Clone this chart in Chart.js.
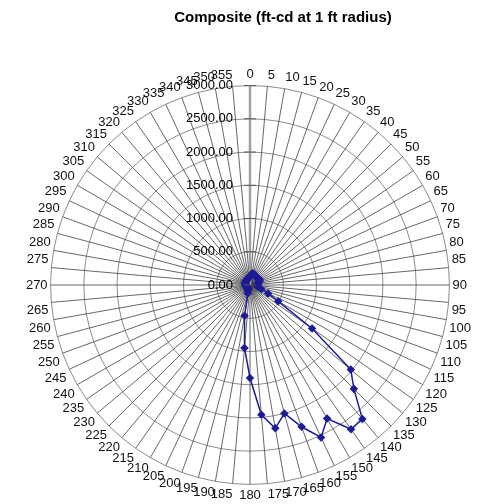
<!DOCTYPE html>
<html>
<head>
<meta charset="utf-8">
<title>Composite (ft-cd at 1 ft radius)</title>
<script src="https://cdn.jsdelivr.net/npm/chart.js@4.4.1/dist/chart.umd.min.js"></script>
<style>
  html, body { margin: 0; padding: 0; background: #ffffff; }
  #wrap { width: 477px; height: 504px; position: relative; }
</style>
</head>
<body>
<div id="wrap"><canvas id="polarChart"></canvas></div>
<script>
// Candela angles (degrees), one spoke every 5 degrees
const angleLabels = [
  '0', '5', '10', '15', '20', '25', '30', '35', '40', '45', '50', '55',
  '60', '65', '70', '75', '80', '85', '90', '95', '100', '105', '110', '115',
  '120', '125', '130', '135', '140', '145', '150', '155', '160', '165', '170', '175',
  '180', '185', '190', '195', '200', '205', '210', '215', '220', '225', '230', '235',
  '240', '245', '250', '255', '260', '265', '270', '275', '280', '285', '290', '295',
  '300', '305', '310', '315', '320', '325', '330', '335', '340', '345', '350', '355'
];

// Foot-candles at 1 ft
const compositeValues = [
  130, 160, 175, 180, 175, 165, 155, 150, 150, 155, 160, 165,
  165, 160, 150, 135, 120, 110, 105, 105, 115, 135, 180, 300,
  490, 1140, 1980, 2210, 2630, 2650, 2320, 2530, 2270, 2000, 2190, 1960,
  1400, 950, 470, 130, 90, 75, 70, 65, 65, 60, 60, 60,
  60, 60, 60, 60, 60, 65, 65, 65, 70, 70, 75, 75,
  80, 80, 85, 85, 90, 90, 95, 95, 100, 105, 110, 120
];

// Value axis
const tickValues = [0, 500, 1000, 1500, 2000, 2500, 3000];
const tickLabels = ['0.00', '500.00', '1000.00', '1500.00', '2000.00', '2500.00', '3000.00'];

const chartTitle = 'Composite (ft-cd at 1 ft radius)';
const fontFamily = '"Liberation Sans", Arial, sans-serif';

// Title sits off-centre in the original, so draw it ourselves
const titlePlugin = {
    id: 'offsetTitle',
    afterDraw(chart) {
        const ctx = chart.ctx;
        ctx.save();
        ctx.font = 'bold 15px ' + fontFamily;
        ctx.fillStyle = '#000000';
        ctx.textAlign = 'center';
        ctx.textBaseline = 'middle';
        ctx.fillText(chartTitle, 283, 18);
        ctx.restore();
    }
};

// Value labels to the left of the 0 degree spoke, with small tick marks
const valueAxisPlugin = {
    id: 'valueAxis',
    afterDatasetsDraw(chart) {
        const scale = chart.scales.r;
        const ctx = chart.ctx;
        ctx.save();
        ctx.font = '13px ' + fontFamily;
        ctx.fillStyle = '#000000';
        ctx.textAlign = 'right';
        ctx.textBaseline = 'middle';
        ctx.strokeStyle = '#555555';
        ctx.lineWidth = 1;
        tickValues.forEach((v, i) => {
            const y = scale.yCenter - scale.getDistanceFromCenterForValue(v);
            ctx.beginPath();
            ctx.moveTo(scale.xCenter - 6, y);
            ctx.lineTo(scale.xCenter + 6, y);
            ctx.stroke();
            ctx.fillText(tickLabels[i], scale.xCenter - 17, y);
        });
        ctx.restore();
    }
};

const ctx = document.getElementById('polarChart').getContext('2d');

new Chart(ctx, {
    type: 'radar',
    data: {
        labels: angleLabels,
        datasets: [{
            label: 'Composite',
            data: compositeValues,
            borderColor: '#1c1c96',
            backgroundColor: '#1c1c96',
            borderWidth: 1.5,
            fill: false,
            pointStyle: 'rectRot',
            pointRadius: 3.2,
            pointBackgroundColor: '#1c1c96',
            pointBorderColor: '#1c1c96',
            tension: 0
        }]
    },
    options: {
        responsive: true,
        maintainAspectRatio: false,
        animation: false,
        layout: {
            padding: { top: 67, left: 21, right: -8, bottom: -17 }
        },
        scales: {
            r: {
                min: 0,
                max: 3000,
                startAngle: 0,
                ticks: {
                    display: false,
                    stepSize: 500
                },
                grid: {
                    color: '#8c8c8c',
                    lineWidth: 1
                },
                angleLines: {
                    color: c => c.index === 0 ? '#a0a0a0' : '#404040',
                    lineWidth: c => c.index === 0 ? 2.5 : 0.8
                },
                pointLabels: {
                    color: '#111111',
                    padding: 3,
                    font: {
                        family: fontFamily,
                        size: 13
                    }
                }
            }
        },
        plugins: {
            legend: { display: false },
            title: { display: false },
            tooltip: { enabled: false }
        }
    },
    plugins: [titlePlugin, valueAxisPlugin]
});
</script>
</body>
</html>
